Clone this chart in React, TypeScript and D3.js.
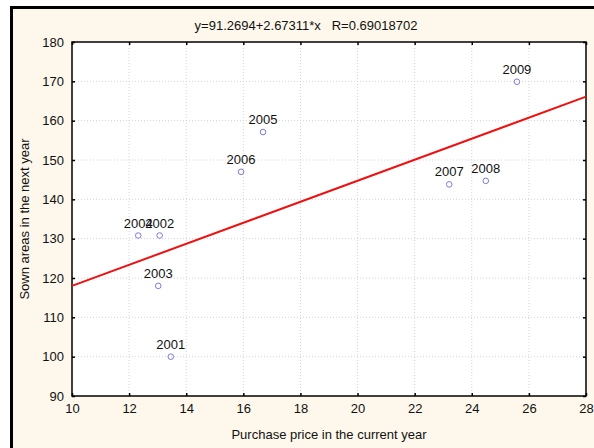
import React, { useEffect, useRef } from 'react'
import * as d3 from 'd3'

const years = ['2001', '2002', '2003', '2004', '2005', '2006', '2007', '2008', '2009']
const price = [13.46, 13.07, 13.02, 12.32, 16.69, 15.92, 23.21, 24.49, 25.58]
const area = [100, 130.8, 118, 130.8, 157.1, 147, 143.8, 144.7, 169.9]
const xTicks = [10, 12, 14, 16, 18, 20, 22, 24, 26, 28]
const yTicks = [90, 100, 110, 120, 130, 140, 150, 160, 170, 180]
const intercept = 91.2694
const slope = 2.67311

export default function App() {
    const ref = useRef<SVGSVGElement>(null)

    useEffect(() => {
        const svg = d3.select(ref.current)
        svg.selectAll('*').remove()

        const font = 'Liberation Sans, Arial, sans-serif'
        let left = 72, right = 586, top = 42, bottom = 396

        // outer frame, runs off the window on the right and bottom
        svg.append('rect')
            .attr('x', 11.5).attr('y', 7.5)
            .attr('width', 600).attr('height', 460)
            .attr('fill', '#fdf8eb').attr('stroke', '#000').attr('stroke-width', 3)

        svg.append('rect')
            .attr('x', left).attr('y', top)
            .attr('width', right - left).attr('height', bottom - top)
            .attr('fill', '#fff')

        let xScale = d3.scaleLinear().domain([10, 28]).range([left, right])
        let yScale = d3.scaleLinear().domain([90, 180]).range([bottom, top])

        // dotted grid
        const grid = svg.append('g').attr('stroke', '#d4d4d4').attr('stroke-dasharray', '1,2')
        grid.selectAll('.gx').data(xTicks.slice(1, -1)).enter().append('line')
            .attr('x1', d => xScale(d)).attr('x2', d => xScale(d))
            .attr('y1', top).attr('y2', bottom)
        grid.selectAll('.gy').data(yTicks.slice(1, -1)).enter().append('line')
            .attr('x1', left).attr('x2', right)
            .attr('y1', d => yScale(d)).attr('y2', d => yScale(d))

        // inward ticks on all four sides
        const tickSize = 3
        const axes = [
            d3.axisBottom(xScale).tickValues(xTicks).tickSize(-tickSize).tickPadding(8).tickFormat(d3.format('d')),
            d3.axisLeft(yScale).tickValues(yTicks).tickSize(-tickSize).tickPadding(8).tickFormat(d3.format('d')),
        ]
        svg.append('g').attr('transform', `translate(0,${bottom})`).call(axes[0])
        svg.append('g').attr('transform', `translate(${left},0)`).call(axes[1])
        svg.append('g').attr('transform', `translate(0,${top})`)
            .call(d3.axisTop(xScale).tickValues(xTicks).tickSize(-tickSize).tickFormat(() => ''))
        svg.append('g').attr('transform', `translate(${right},0)`)
            .call(d3.axisRight(yScale).tickValues(yTicks).tickSize(-tickSize).tickFormat(() => ''))
        svg.selectAll('.domain').remove()
        svg.selectAll('.tick line').attr('stroke', '#000').attr('stroke-width', 1.5)
        svg.selectAll('.tick text')
            .attr('font-family', font).attr('font-size', 13).attr('fill', '#111')

        svg.append('rect')
            .attr('x', left).attr('y', top)
            .attr('width', right - left).attr('height', bottom - top)
            .attr('fill', 'none').attr('stroke', '#000').attr('stroke-width', 1.5)

        // fitted line
        svg.append('line')
            .attr('x1', xScale(10)).attr('y1', yScale(intercept + slope * 10))
            .attr('x2', xScale(28)).attr('y2', yScale(intercept + slope * 28))
            .attr('stroke', '#ee1111').attr('stroke-width', 2)

        let pts = years.map((y, i) => ({ year: y, x: price[i], y: area[i] }))

        svg.selectAll('.pt').data(pts).enter().append('circle')
            .attr('cx', d => xScale(d.x)).attr('cy', d => yScale(d.y))
            .attr('r', 2.8).attr('fill', 'none').attr('stroke', '#7a7ad8').attr('stroke-width', 1)

        svg.selectAll('.lbl').data(pts).enter().append('text')
            .attr('x', d => xScale(d.x)).attr('y', d => yScale(d.y) - 8)
            .attr('text-anchor', 'middle')
            .attr('font-family', font).attr('font-size', 13).attr('fill', '#111')
            .text(d => d.year)

        svg.append('text')
            .attr('x', 306).attr('y', 30)
            .attr('text-anchor', 'middle').attr('xml:space', 'preserve')
            .attr('font-family', font).attr('font-size', 13).attr('fill', '#111')
            .text(`y=${intercept}+${slope}*x   R=0.69018702`)

        svg.append('text')
            .attr('x', (left + right) / 2).attr('y', 439)
            .attr('text-anchor', 'middle')
            .attr('font-family', font).attr('font-size', 13).attr('fill', '#111')
            .text('Purchase price in the current year')

        svg.append('text')
            .attr('transform', `translate(29,${(top + bottom) / 2}) rotate(-90)`)
            .attr('text-anchor', 'middle')
            .attr('font-family', font).attr('font-size', 13).attr('fill', '#111')
            .text('Sown areas in the next year')
    }, [])

    return (
        <svg ref={ref} width={594} height={448}
            style={{ position: 'absolute', left: 0, top: 0, display: 'block' }} />
    )
}
